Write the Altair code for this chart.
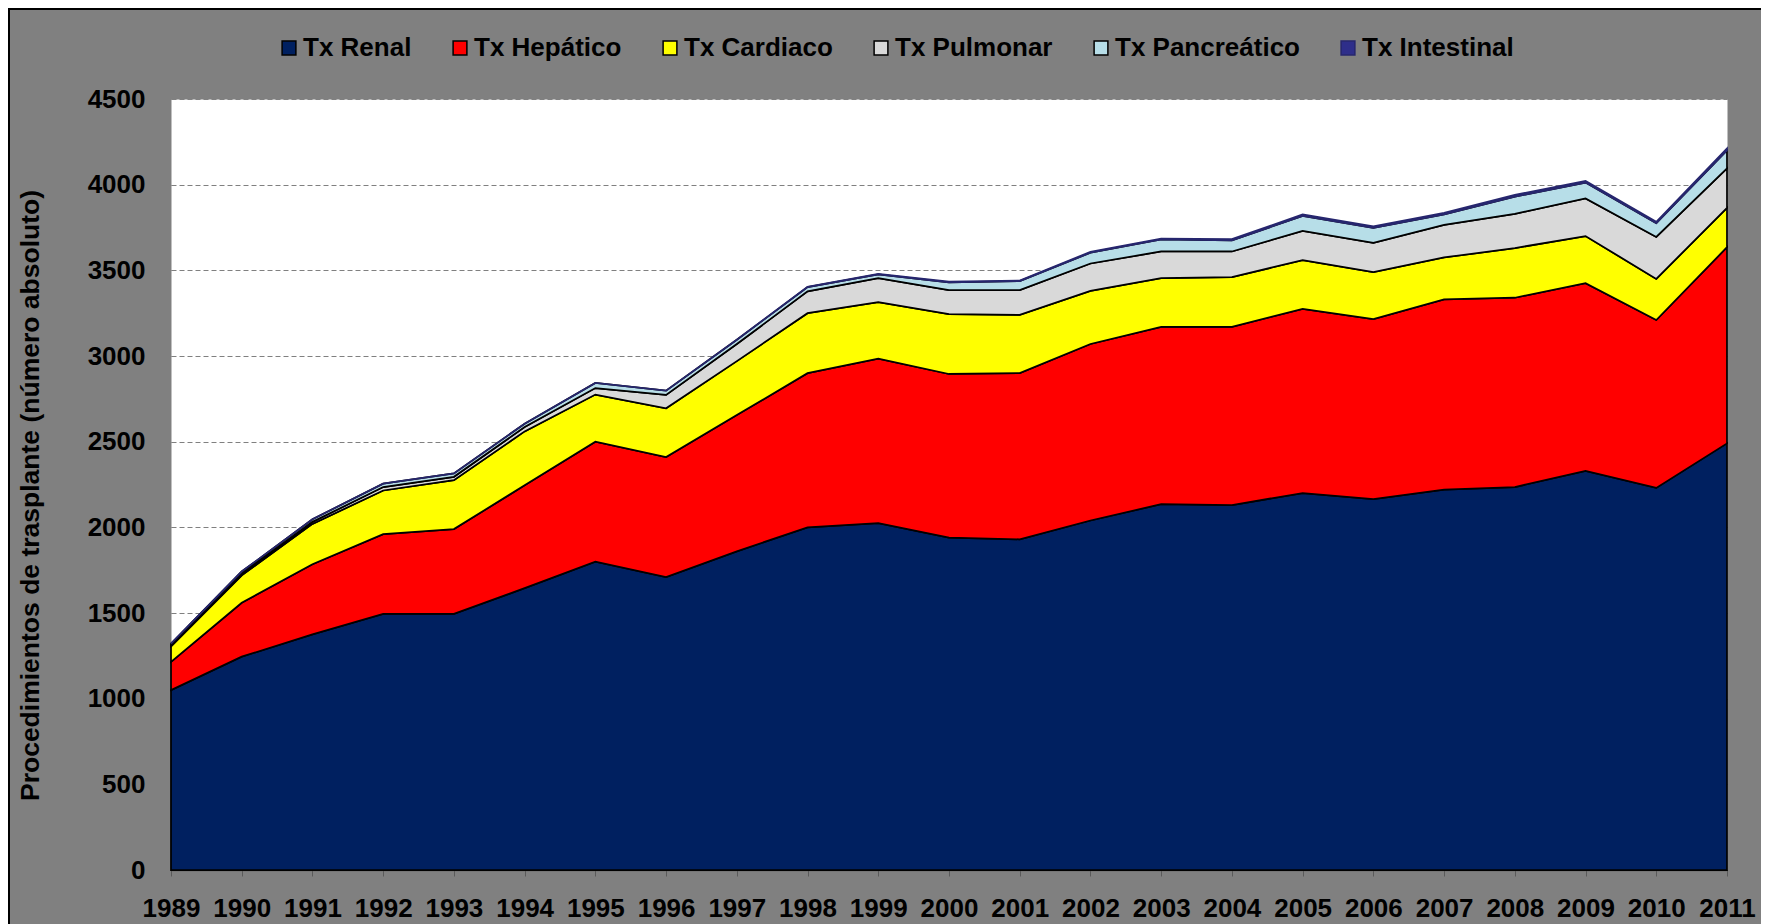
import altair as alt
import pandas as pd

years = list(range(1989, 2012))
renal = [1050, 1245, 1375, 1495, 1495, 1645, 1800, 1710, 1860, 2000, 2025, 1940,
         1930, 2040, 2135, 2130, 2200, 2165, 2220, 2235, 2330, 2230, 2490]
hepatico = [165, 315, 410, 465, 495, 600, 700, 700, 795, 900, 960, 955,
            970, 1030, 1035, 1040, 1075, 1050, 1110, 1105, 1095, 980, 1145]
cardiaco = [90, 160, 235, 255, 285, 315, 275, 285, 315, 350, 330, 350,
            340, 310, 285, 290, 285, 275, 245, 290, 275, 240, 230]
pulmonar = [8, 10, 12, 20, 20, 25, 38, 78, 100, 127, 140, 140,
            145, 160, 155, 150, 170, 170, 190, 200, 220, 245, 230]
pancreatico = [8, 12, 15, 20, 20, 20, 30, 25, 25, 25, 22, 45,
               52, 63, 70, 65, 88, 88, 62, 100, 92, 80, 105]
intestinal = [0, 0, 0, 0, 0, 0, 0, 0, 0, 2, 3, 4,
              3, 5, 5, 7, 8, 8, 8, 10, 10, 8, 12]

series_names = ["Tx Renal", "Tx Hepático", "Tx Cardiaco", "Tx Pulmonar",
                "Tx Pancreático", "Tx Intestinal"]
fill_colors = ["#002060", "#FF0000", "#FFFF00", "#D9D9D9", "#B7DEE8", "#2E2E8A"]
stroke_colors = ["#000000", "#000000", "#000000", "#000000", "#000000", "#26266E"]
y_ticks = list(range(0, 4501, 500))

rows = []
for k, (name, vals) in enumerate(zip(series_names,
                                     [renal, hepatico, cardiaco, pulmonar,
                                      pancreatico, intestinal])):
    for yr, v in zip(years, vals):
        rows.append({"year": str(yr), "serie": name, "valor": v, "orden": k})
df = pd.DataFrame(rows)

FONT = "Liberation Sans"

legend_kw = dict(
    title=None, orient="none", legendX=105, legendY=-64, direction="horizontal",
    symbolType="square", symbolSize=190, symbolStrokeWidth=1.5,
    labelFont=FONT, labelFontSize=26, labelFontWeight="bold", labelColor="black",
    labelOffset=1, columnPadding=35, padding=0, labelLimit=400,
)

area = alt.Chart(df).mark_area(strokeWidth=1.75).encode(
    x=alt.X("year:O", sort=[str(y) for y in years],
            scale=alt.Scale(padding=0),
            axis=alt.Axis(title=None, labelAngle=0, labelFont=FONT, labelFontSize=26,
                          labelFontWeight="bold", labelColor="black",
                          tickColor="#5a5a5a", tickSize=6, domainColor="#5a5a5a",
                          domainWidth=1.5, labelPadding=19, grid=False)),
    y=alt.Y("valor:Q", stack="zero",
            scale=alt.Scale(domain=[0, 4500], nice=False),
            axis=alt.Axis(values=y_ticks, format="d",
                          title="Procedimientos de trasplante (número absoluto)",
                          titleFont=FONT, titleFontSize=26.5, titleFontWeight="bold",
                          titleColor="black", titleX=-127, titleY=396,
                          labelFont=FONT, labelFontSize=26, labelFontWeight="bold",
                          labelColor="black", labelPadding=18,
                          tickSize=8, tickColor="#808080", tickDash=[5, 3],
                          grid=True, gridColor="#808080", gridDash=[5, 3], gridWidth=1,
                          domain=False)),
    fill=alt.Fill("serie:N", scale=alt.Scale(domain=series_names, range=fill_colors),
                  legend=alt.Legend(**legend_kw)),
    stroke=alt.Stroke("serie:N", scale=alt.Scale(domain=series_names, range=stroke_colors),
                      legend=alt.Legend(**legend_kw)),
    order=alt.Order("orden:Q", sort="ascending"),
)

frame_df = pd.DataFrame({"a": [0]})
top_rule = alt.Chart(frame_df).mark_rule(color="black", strokeWidth=2).encode(
    x=alt.value(-163), x2=alt.value(1590), y=alt.value(-90))
left_rule = alt.Chart(frame_df).mark_rule(color="black", strokeWidth=2).encode(
    x=alt.value(-162), y=alt.value(-91), y2=alt.value(834))

chart = alt.layer(area, top_rule, left_rule).properties(
    width=1556, height=771,
    autosize=alt.AutoSizeParams(type="none"),
    padding={"left": 163, "top": 91, "right": 34, "bottom": 54},
    background="#808080",
).configure_view(fill="white", stroke="transparent")

chart.save("out.html", embed_options={"renderer": "svg", "actions": False})
